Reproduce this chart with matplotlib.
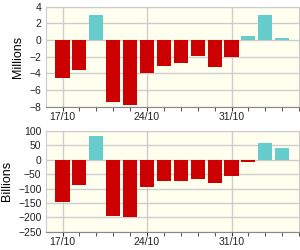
import matplotlib
matplotlib.use("Agg")
import matplotlib.pyplot as plt

plt.rcParams['font.family'] = ['Liberation Sans', 'DejaVu Sans']

dates = ["17/10", "18/10", "19/10", "20/10", "21/10", "24/10", "25/10", "26/10",
         "27/10", "28/10", "31/10", "01/11", "02/11", "03/11"]
volume_millions = [-4.5, -3.6, 3.0, -7.4, -7.75, -3.9, -3.1, -2.75, -1.9, -3.25, -2.0, 0.5, 3.0, 0.25]
value_billions = [-146, -87, 82, -197, -200, -96, -75, -75, -68, -82, -55, -6, 57, 42]
label_dates = ["17/10", "24/10", "31/10"]

RED = "#cc0000"
CYAN = "#66cccc"
BG = "#fffff0"
GRID = "#cccccc"

fig = plt.figure(figsize=(3, 2.5), dpi=100)
ax1 = fig.add_axes([0.152, 0.573, 0.845, 0.4])
ax2 = fig.add_axes([0.152, 0.073, 0.845, 0.403])

x = list(range(len(dates)))
label_pos = [dates.index(d) for d in label_dates]

def draw(ax, values, ylim, yticks, ylabel):
    colors = [CYAN if v >= 0 else RED for v in values]
    ax.bar(x, values, width=0.83, color=colors, zorder=3)
    ax.set_facecolor(BG)
    ax.set_xlim(-1, len(dates))
    ax.set_ylim(*ylim)
    ax.set_yticks(yticks)
    ax.set_xticks(label_pos)
    ax.set_xticklabels(label_dates)
    ax.set_xticks(range(len(dates) + 1), minor=True)
    ax.grid(True, color=GRID, linewidth=1, zorder=0)
    ax.set_axisbelow(True)
    for s in ["top", "right", "left"]:
        ax.spines[s].set_color(GRID)
    ax.spines["bottom"].set_color("#888888")
    ax.tick_params(axis="y", length=0, labelsize=7.5, colors="#222222", pad=3)
    ax.tick_params(axis="x", which="both", length=3, color="#333333",
                   labelsize=7.5, colors="#222222", pad=1)
    ax.tick_params(axis="x", which="both", color="#333333")
    ax.set_ylabel(ylabel, fontsize=9, labelpad=4)

draw(ax1, volume_millions, (-8, 4), range(-8, 5, 2), "Millions")
draw(ax2, value_billions, (-250, 100), range(-250, 101, 50), "Billions")

fig.savefig("out.png", dpi=100)
